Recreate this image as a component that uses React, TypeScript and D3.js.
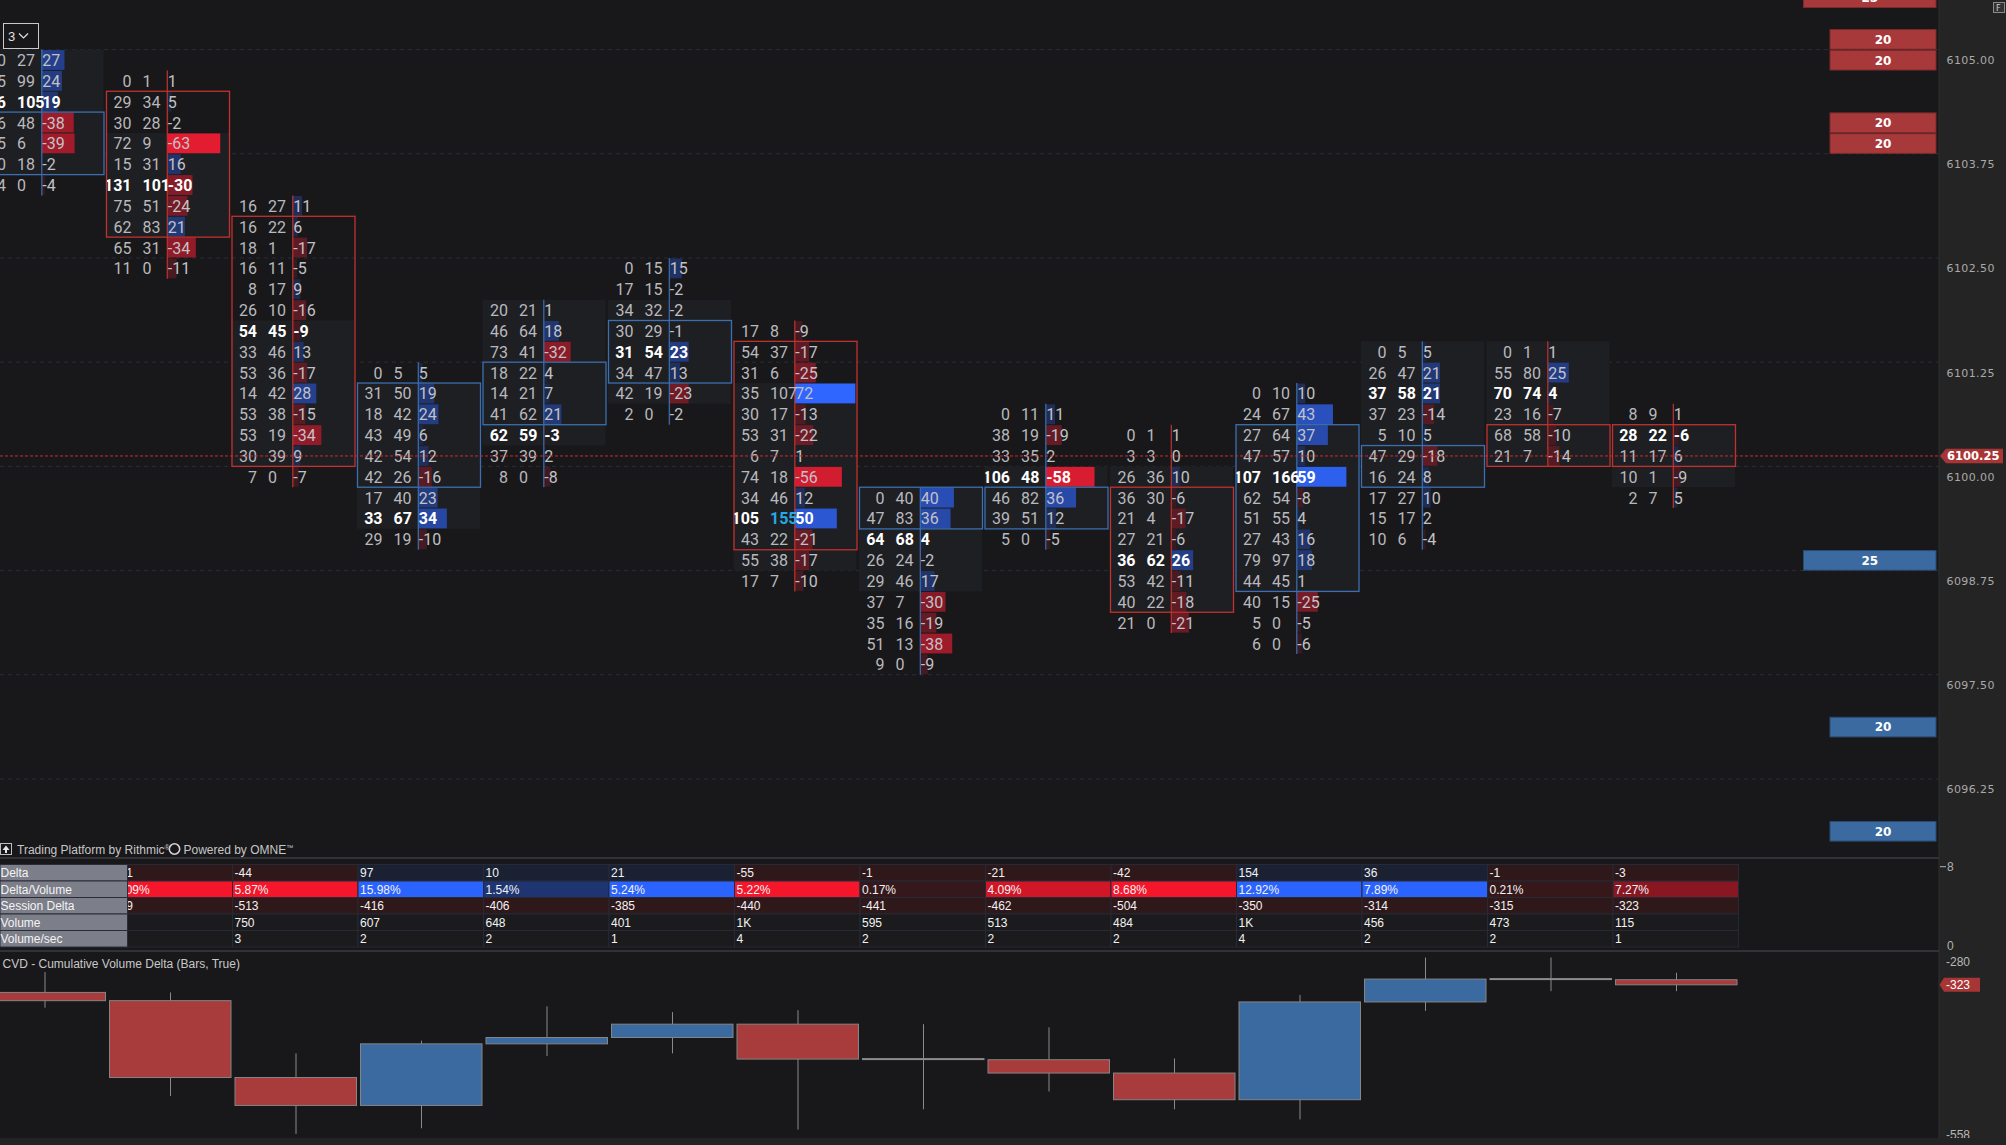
import React from 'react';
import * as d3 from 'd3';

const W = 2006;
const H = 1145;

// ---------- footprint data (top price of each column, then rows downward in 0.25 steps)
const colTopPrice = [6105.0, 6104.75, 6103.25, 6101.25, 6102.0, 6102.5, 6101.75, 6099.75, 6100.75, 6100.5, 6101.0, 6101.5, 6101.5, 6100.75];
const bidVol = [
  [0, 75, 86, 86, 45, 20, 4],
  [0, 29, 30, 72, 15, 131, 75, 62, 65, 11],
  [16, 16, 18, 16, 8, 26, 54, 33, 53, 14, 53, 53, 30, 7],
  [0, 31, 18, 43, 42, 42, 17, 33, 29],
  [20, 46, 73, 18, 14, 41, 62, 37, 8],
  [0, 17, 34, 30, 31, 34, 42, 2],
  [17, 54, 31, 35, 30, 53, 6, 74, 34, 105, 43, 55, 17],
  [0, 47, 64, 26, 29, 37, 35, 51, 9],
  [0, 38, 33, 106, 46, 39, 5],
  [0, 3, 26, 36, 21, 27, 36, 53, 40, 21],
  [0, 24, 27, 47, 107, 62, 51, 27, 79, 44, 40, 5, 6],
  [0, 26, 37, 37, 5, 47, 16, 17, 15, 10],
  [0, 55, 70, 23, 68, 21],
  [8, 28, 11, 10, 2],
];
const askVol = [
  [27, 99, 105, 48, 6, 18, 0],
  [1, 34, 28, 9, 31, 101, 51, 83, 31, 0],
  [27, 22, 1, 11, 17, 10, 45, 46, 36, 42, 38, 19, 39, 0],
  [5, 50, 42, 49, 54, 26, 40, 67, 19],
  [21, 64, 41, 22, 21, 62, 59, 39, 0],
  [15, 15, 32, 29, 54, 47, 19, 0],
  [8, 37, 6, 107, 17, 31, 7, 18, 46, 155, 22, 38, 7],
  [40, 83, 68, 24, 46, 7, 16, 13, 0],
  [11, 19, 35, 48, 82, 51, 0],
  [1, 3, 36, 30, 4, 21, 62, 42, 22, 0],
  [10, 67, 64, 57, 166, 54, 55, 43, 97, 45, 15, 0, 0],
  [5, 47, 58, 23, 10, 29, 24, 27, 17, 6],
  [1, 80, 74, 16, 58, 7],
  [9, 22, 17, 1, 7],
];
// bar direction (1 up / -1 down) used for box + delta-axis colour
const barDir = [1, -1, -1, 1, 1, 1, -1, 1, 1, -1, 1, 1, -1, -1];
// highlighted box (high / low price)
const boxHigh = [6104.25, 6104.5, 6103.0, 6101.0, 6101.25, 6101.75, 6101.5, 6099.75, 6099.75, 6099.75, 6100.5, 6100.25, 6100.5, 6100.5];
const boxLow = [6103.75, 6103.0, 6100.25, 6100.0, 6100.75, 6101.25, 6099.25, 6099.5, 6099.5, 6098.5, 6098.75, 6100.0, 6100.25, 6100.25];
// value area shading (high / low price)
const vaHigh = [6105.0, 6104.0, 6101.75, 6101.0, 6102.0, 6102.0, 6101.0, 6099.75, 6100.0, 6100.0, 6100.5, 6101.5, 6101.5, 6100.5];
const vaLow = [6103.75, 6103.0, 6100.25, 6099.5, 6100.5, 6101.0, 6099.0, 6098.75, 6099.5, 6098.5, 6098.75, 6100.0, 6100.25, 6100.0];
// highlighted ask cell (column number, price)
const highlightAskCol = [7];
const highlightAskPrice = [6099.5];

// ---------- price axis
const priceTicks = [6105.0, 6103.75, 6102.5, 6101.25, 6100.0, 6098.75, 6097.5, 6096.25];
const lastPrice = 6100.25;

// ---------- DOM resting orders
const domAskPrices = [6105.75, 6105.25, 6105.0, 6104.25, 6104.0];
const domAskSizes = [25, 20, 20, 20, 20];
const domBidPrices = [6099.0, 6097.0, 6095.75];
const domBidSizes = [25, 20, 20];

// ---------- table (columns 2..14)
const tableLabels = ['Delta', 'Delta/Volume', 'Session Delta', 'Volume', 'Volume/sec'];
const tDelta = [-121, -44, 97, 10, 21, -55, -1, -21, -42, 154, 36, -1, -3];
const tPct = [14.09, 5.87, 15.98, 1.54, 5.24, 5.22, 0.17, 4.09, 8.68, 12.92, 7.89, 0.21, 7.27];
const tSession = [-469, -513, -416, -406, -385, -440, -441, -462, -504, -350, -314, -315, -323];
const tVolume = ['', '750', '607', '648', '401', '1K', '595', '513', '484', '1K', '456', '473', '115'];
const tVolSec = ['', '3', '2', '2', '1', '4', '2', '2', '2', '4', '2', '2', '1'];

// ---------- CVD candles (columns 1..14)
const cvdOpen = [-335, -348, -469, -513, -416, -406, -385, -440, -441, -462, -504, -350, -314, -315];
const cvdClose = [-348, -469, -513, -416, -406, -385, -440, -441, -462, -504, -350, -314, -315, -323];
const cvdHigh = [-303, -335, -431, -411, -357, -366, -363, -385, -390, -439, -339, -280, -280, -304];
const cvdLow = [-359, -498, -558, -549, -435, -431, -551, -519, -491, -519, -535, -364, -333, -333];
const cvdTicks = [-280, -558];
const cvdLast = -323;

// ---------- scales
const ROW_H = 20.84;
const yP = d3.scaleLinear().domain([6105, 6100]).range([60, 60 + 20 * ROW_H]);
const colX = d3.scaleLinear().domain([2, 14]).range([106, 1612]);
const COL_STEP = 125.5;
const BOX_W = 123;
const deltaW = d3.scaleLinear().domain([0, 72]).range([0, 60.5]);
const domW = d3.scaleLinear().domain([0, 25]).range([0, 132.5]);
const cvdY = d3.scaleLinear().domain([-558, -280]).range([1134, 957.5]);

const redScale = d3.interpolateRgb('#221a1c', '#e31c32');
const blueScale = d3.interpolateRgb('#1b1f2c', '#2f66ff');
const barColor = (d: number) => {
  if (d === 0) return 'none';
  if (d < 0) return redScale(Math.pow(Math.min(1, -d / 62), 0.9));
  return blueScale(Math.pow(Math.min(1, d / 65), 0.9));
};

const AXIS_X = 1939;
const MAIN_BOTTOM = 858;
const T_TOP = 864.5;
const T_ROW = 16.5;
const NARROW = "'Liberation Sans Narrow', 'Arial Narrow', 'Liberation Sans', sans-serif";
const FP_FONT = "Roboto, 'Segoe UI', 'Liberation Sans', sans-serif";

export default function App() {
  const cols = colTopPrice.map((top, i) => {
    const k = i + 1;
    const left = colX(k);
    const rows = bidVol[i].map((b, j) => ({
      price: top - j * 0.25,
      bid: b,
      ask: askVol[i][j],
      delta: askVol[i][j] - b,
      total: b + askVol[i][j],
    }));
    const maxTot = d3.max(rows, (r) => r.total) as number;
    return { k, i, left, rows, maxTot };
  });

  const up = '#3b6fb0';
  const dn = '#c0322e';

  const cellLeft = (k: number) => colX(k) + 1;

  const pctColor = (i: number) => {
    const neg = tDelta[i] < 0;
    let t = Math.min(1, tPct[i] / 5);
    if (i === tDelta.length - 1) t *= 0.45;
    return neg ? d3.interpolateRgb('#2e181a', '#f5162b')(t) : d3.interpolateRgb('#1a2133', '#2b63ff')(t);
  };

  return (
    <svg
      width={W}
      height={H}
      style={{ position: 'absolute', left: 0, top: 0, display: 'block' }}
      xmlns="http://www.w3.org/2000/svg"
    >
      <defs>
        <clipPath id="mainClip">
          <rect x={0} y={0} width={AXIS_X} height={MAIN_BOTTOM} />
        </clipPath>
        <clipPath id="lowClip">
          <rect x={0} y={951} width={AXIS_X} height={187} />
        </clipPath>
        {cols.map((c) => (
          <clipPath key={'cc' + c.k} id={'colClip' + c.k}>
            <rect x={c.left + 1} y={0} width={COL_STEP + 40} height={MAIN_BOTTOM} />
          </clipPath>
        ))}
      </defs>
      <rect x={0} y={0} width={W} height={H} fill="#18181a" />

      <g clipPath="url(#mainClip)">
        {/* grid lines */}
        {priceTicks.map((p) => (
          <line key={p} x1={0} x2={AXIS_X} y1={yP(p) - ROW_H / 2} y2={yP(p) - ROW_H / 2} stroke="#2b2c38" strokeDasharray="4,4" />
        ))}

        {/* value area shading */}
        {cols.map((c) => (
          <rect
            key={'va' + c.k}
            x={c.left}
            y={yP(vaHigh[c.i]) - ROW_H / 2}
            width={BOX_W}
            height={yP(vaLow[c.i]) - yP(vaHigh[c.i]) + ROW_H}
            fill="#1e1f23"
          />
        ))}

        {/* delta bars */}
        {cols.map((c) =>
          c.rows.map((r) => (
            <rect
              key={'b' + c.k + '_' + r.price}
              x={c.left + 61.3}
              y={yP(r.price) - ROW_H / 2 + 0.5}
              width={deltaW(Math.abs(r.delta))}
              height={ROW_H - 1}
              fill={barColor(r.delta)}
            />
          ))
        )}

        {/* delta axis lines */}
        {cols.map((c) => (
          <line
            key={'dl' + c.k}
            x1={c.left + 61.3}
            x2={c.left + 61.3}
            y1={yP(c.rows[0].price) - ROW_H / 2}
            y2={yP(c.rows[c.rows.length - 1].price) + ROW_H / 2}
            stroke={barDir[c.i] > 0 ? up : dn}
            strokeWidth={1.2}
          />
        ))}

        {/* boxes */}
        {cols.map((c) => (
          <rect
            key={'bx' + c.k}
            x={c.left + 0.5}
            y={yP(boxHigh[c.i]) - ROW_H / 2}
            width={BOX_W}
            height={yP(boxLow[c.i]) - yP(boxHigh[c.i]) + ROW_H}
            fill="none"
            stroke={barDir[c.i] > 0 ? up : dn}
            strokeWidth={1.3}
          />
        ))}

        {/* texts */}
        {cols.map((c) => (
          <g key={'tg' + c.k} clipPath={`url(#colClip${c.k})`}>
            {c.rows.map((r) => {
              const poc = r.total === c.maxTot;
              const hi = highlightAskCol.some((hc, hi2) => hc === c.k && highlightAskPrice[hi2] === r.price);
              const fill = poc ? '#ffffff' : '#b9b9bd';
              const fw = poc ? 700 : 400;
              const by = yP(r.price) + 6;
              return (
                <g key={'t' + c.k + '_' + r.price} fontFamily={FP_FONT} fontSize={16} fontWeight={fw}>
                  <text x={c.left + 25.5} y={by} textAnchor="end" fill={fill}>{r.bid}</text>
                  <text x={c.left + 36.5} y={by} fill={hi ? '#27a9e6' : fill}>{r.ask}</text>
                  <text x={c.left + 61.8} y={by} fill={poc ? '#ffffff' : '#c2c2c6'}>{r.delta}</text>
                </g>
              );
            })}
          </g>
        ))}

        {/* last price line */}
        <line x1={0} x2={AXIS_X} y1={yP(lastPrice)} y2={yP(lastPrice)} stroke="#d02a2a" strokeDasharray="3,2" strokeWidth={1} />

        {/* DOM */}
        {domAskPrices.map((p, i) => (
          <g key={'da' + p}>
            <rect x={1936 - domW(domAskSizes[i])} y={yP(p) - ROW_H / 2 + 0.8} width={domW(domAskSizes[i])} height={ROW_H - 1.2} fill="#a8393a" stroke="#7a2a2c" />
            <text x={1936 - domW(domAskSizes[i]) / 2} y={yP(p) + 4.5} textAnchor="middle" fill="#ffffff" fontFamily="'DejaVu Sans', sans-serif" fontWeight={700} fontSize={12}>{domAskSizes[i]}</text>
          </g>
        ))}
        {domBidPrices.map((p, i) => (
          <g key={'db' + p}>
            <rect x={1936 - domW(domBidSizes[i])} y={yP(p) - ROW_H / 2 + 0.8} width={domW(domBidSizes[i])} height={ROW_H - 1.2} fill="#3a6aa0" stroke="#2a4a72" />
            <text x={1936 - domW(domBidSizes[i]) / 2} y={yP(p) + 4.5} textAnchor="middle" fill="#ffffff" fontFamily="'DejaVu Sans', sans-serif" fontWeight={700} fontSize={12}>{domBidSizes[i]}</text>
          </g>
        ))}
      </g>

      {/* top-left widget */}
      <rect x={3.5} y={23.5} width={35} height={25} fill="#18181a" stroke="#c8c8c8" />
      <text x={8} y={41} fill="#e0e0e0" fontFamily="'Liberation Sans', sans-serif" fontSize={13}>3</text>
      <path d="M19,33.5 L23.5,38 L28,33.5" fill="none" stroke="#e0e0e0" strokeWidth={1.2} />

      {/* right axis panel */}
      <rect x={AXIS_X} y={0} width={W - AXIS_X} height={1138} fill="#242424" />
      <line x1={AXIS_X} x2={AXIS_X} y1={0} y2={1138} stroke="#2e2e2e" />
      {priceTicks.map((p) => (
        <text key={'pt' + p} x={1946.5} y={yP(p) + 4} fill="#a9a9a9" fontFamily="'DejaVu Sans', sans-serif" fontSize={11} letterSpacing={0.4}>
          {d3.format('.2f')(p)}
        </text>
      ))}
      <path
        d={`M1940,${yP(lastPrice)} L1946,${yP(lastPrice) - 7.2} L2003,${yP(lastPrice) - 7.2} L2003,${yP(lastPrice) + 7.2} L1946,${yP(lastPrice) + 7.2} Z`}
        fill="#a83535"
      />
      <text x={1947} y={yP(lastPrice) + 4.3} fill="#ffffff" fontWeight={700} fontFamily="'DejaVu Sans', sans-serif" fontSize={11.5}>
        {d3.format('.2f')(lastPrice)}
      </text>
      <rect x={1993.5} y={2.5} width={11} height={10} fill="#333" stroke="#8a8a8a" />
      <text x={1996} y={11} fill="#cfcfcf" fontSize={8} fontFamily="'DejaVu Sans', sans-serif">F</text>

      {/* separators */}
      <line x1={0} x2={AXIS_X} y1={MAIN_BOTTOM} y2={MAIN_BOTTOM} stroke="#3b3b40" strokeWidth={1.5} />
      <line x1={0} x2={AXIS_X} y1={951} y2={951} stroke="#3b3b40" strokeWidth={1.5} />

      {/* watermark */}
      <rect x={0.5} y={843.5} width={11} height={11} fill="#18181a" stroke="#bdbdbd" />
      <path d="M6,845.5 L9.5,850 L7,850 L7,853 L5,853 L5,850 L2.5,850 Z" fill="#e6e6e6" />
      <text x={17} y={853.5} fill="#c6c6c6" fontFamily={NARROW} fontSize={12}>
        Trading Platform by Rithmic<tspan fontSize={7} dy={-4}>®</tspan>
      </text>
      <circle cx={174.5} cy={849} r={5.2} fill="none" stroke="#d4d4d4" strokeWidth={1.6} />
      <text x={183.5} y={853.5} fill="#c6c6c6" fontFamily={NARROW} fontSize={12}>
        Powered by OMNE<tspan fontSize={7} dy={-4}>™</tspan>
      </text>

      {/* table */}
      <g fontFamily={NARROW} fontSize={12}>
        {tDelta.map((d, i) => {
          const k = i + 2;
          const x0 = cellLeft(k);
          const rowsFill = [
            d < 0 ? '#2e181a' : '#1a2133',
            pctColor(i),
            tSession[i] < 0 ? '#2e181a' : '#1a2133',
            '#1b1b1d',
            '#1b1b1d',
          ];
          const texts = [String(d), d3.format('.2f')(tPct[i]) + '%', String(tSession[i]), tVolume[i], tVolSec[i]];
          return (
            <g key={'tc' + k}>
              {rowsFill.map((f, r) => (
                <g key={r}>
                  <rect x={x0} y={T_TOP + r * T_ROW} width={COL_STEP} height={T_ROW} fill={f} stroke="#272934" strokeWidth={1} />
                  <text x={x0 + 2} y={T_TOP + r * T_ROW + 12.5} fill="#f2f2f2">{texts[r]}</text>
                </g>
              ))}
            </g>
          );
        })}
        {tableLabels.map((l, r) => (
          <g key={'tl' + l}>
            <rect x={0} y={T_TOP + r * T_ROW} width={127.5} height={T_ROW} fill="#7c7e89" stroke="#2a2c36" />
            <text x={0.5} y={T_TOP + r * T_ROW + 12.5} fill="#f4f4f4">{l}</text>
          </g>
        ))}
      </g>
      <line x1={1940} x2={1946} y1={866.7} y2={866.7} stroke="#b0b0b0" />
      <text x={1947} y={871} fill="#b0b0b0" fontFamily={NARROW} fontSize={12}>8</text>
      <text x={1947} y={950} fill="#b0b0b0" fontFamily={NARROW} fontSize={12}>0</text>

      {/* CVD panel */}
      <text x={2.5} y={968} fill="#c8c8c8" fontFamily={NARROW} fontSize={12}>CVD - Cumulative Volume Delta (Bars, True)</text>
      <g clipPath="url(#lowClip)">
        {cvdOpen.map((o, i) => {
          const k = i + 1;
          const x0 = cellLeft(k);
          const cx = x0 + 63.5;
          const c = cvdClose[i];
          const doji = Math.abs(c - o) <= 1.5;
          const top = cvdY(Math.max(o, c));
          const bot = cvdY(Math.min(o, c));
          return (
            <g key={'cv' + k}>
              <line x1={cx} x2={cx} y1={cvdY(cvdHigh[i])} y2={cvdY(cvdLow[i])} stroke="#8a8a8a" strokeWidth={1} />
              {doji ? (
                <rect x={x0 + 2} y={cvdY(o) - 1} width={COL_STEP - 3} height={2} fill="#8c8c8c" />
              ) : (
                <rect
                  x={x0 + 2.5}
                  y={top}
                  width={COL_STEP - 4}
                  height={bot - top}
                  fill={c < o ? '#a83b3b' : '#3a6a9f'}
                  stroke="#858585"
                  strokeWidth={1}
                />
              )}
            </g>
          );
        })}
      </g>
      {cvdTicks.map((t) => (
        <text key={'ct' + t} x={1946} y={t === -280 ? 966 : 1139} fill="#b8b8b8" fontFamily={NARROW} fontSize={12}>{t}</text>
      ))}
      <path
        d={`M1939.5,${cvdY(cvdLast)} L1944,${cvdY(cvdLast) - 7} L1980,${cvdY(cvdLast) - 7} L1980,${cvdY(cvdLast) + 7} L1944,${cvdY(cvdLast) + 7} Z`}
        fill="#a83535"
      />
      <text x={1946} y={cvdY(cvdLast) + 4.5} fill="#ffffff" fontFamily={NARROW} fontSize={12}>{cvdLast}</text>

      {/* bottom strip */}
      <rect x={0} y={1138} width={W} height={H - 1138} fill="#232325" />
    </svg>
  );
}
